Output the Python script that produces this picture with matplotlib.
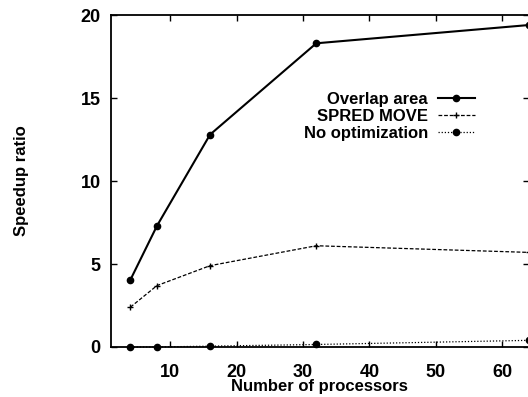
import matplotlib.pyplot as plt

# processors on the x axis
procs = [4, 8, 16, 32, 64]
overlap = [4.05, 7.3, 12.8, 18.3, 19.4]
spred = [2.4, 3.7, 4.9, 6.1, 5.7]
noopt = [0.0, 0.0, 0.05, 0.15, 0.4]

xticks = [10, 20, 30, 40, 50, 60]
yticks = [0, 5, 10, 15, 20]

plt.rcParams['font.family'] = ['Liberation Sans', 'DejaVu Sans']
plt.rcParams['font.weight'] = 'bold'

fig = plt.figure(figsize=(5.28, 3.97), dpi=100)
ax = fig.add_axes([0.2093, 0.126, 0.792, 0.836])

ax.plot(procs, overlap, color='black', lw=1.5, marker='o', ms=4.5,
        label='Overlap area', clip_on=False)
ax.plot(procs, spred, color='black', lw=0.9, ls=(0, (3, 1.5)), marker='+',
        ms=4, mew=1, label='SPRED MOVE', clip_on=False)
ax.plot(procs, noopt, color='black', lw=0.9, ls=(0, (1, 1.5)), marker='o',
        ms=4.5, label='No optimization', clip_on=False)

ax.set_xlim(1, 64)
ax.set_ylim(0, 20)
ax.set_xticks(xticks)
ax.set_yticks(yticks)
ax.tick_params(direction='in', top=True, right=True, length=4, width=1,
               labelsize=13)
ax.tick_params(axis='x', pad=12)
ax.tick_params(axis='y', pad=7)
for s in ax.spines.values():
    s.set_linewidth(1.3)

ax.set_xlabel('Number of processors', fontsize=12, fontweight='bold', labelpad=-1)
ax.set_ylabel('Speedup ratio', fontsize=12, fontweight='bold', labelpad=37)

ax.legend(loc='upper right', bbox_to_anchor=(483 / 528, 1 - 84 / 397),
          bbox_transform=fig.transFigure, markerfirst=False, frameon=False,
          fontsize=12, handlelength=2.2, handletextpad=0.6, labelspacing=0.1,
          borderpad=0)

fig.savefig('out.png', dpi=100)
